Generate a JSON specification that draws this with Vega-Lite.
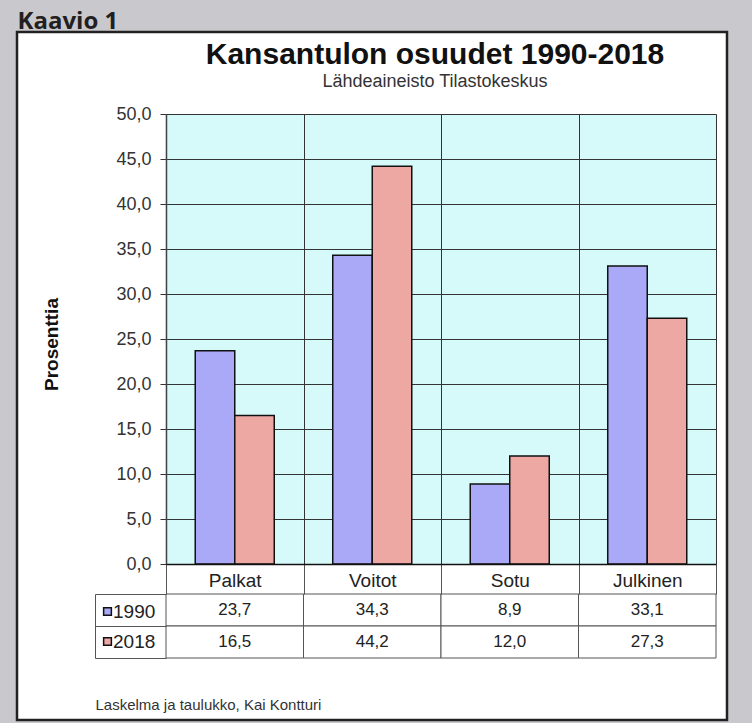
{
  "$schema": "https://vega.github.io/schema/vega-lite/v6.json",
  "width": 710,
  "height": 688,
  "autosize": {"type": "none"},
  "padding": {"left": 17, "top": 32, "right": 25, "bottom": 3},
  "background": "#c9c9cd",
  "title": {
    "text": "Kansantulon osuudet 1990-2018",
    "subtitle": "Lähdeaineisto Tilastokeskus",
    "anchor": "middle",
    "frame": "group",
    "dx": 63,
    "offset": -82,
    "font": "Liberation Sans",
    "fontSize": 30,
    "fontWeight": "bold",
    "color": "#111111",
    "subtitleFont": "Liberation Sans",
    "subtitleFontSize": 18,
    "subtitleColor": "#333333",
    "subtitlePadding": 3
  },
  "data": {
    "values": [
      {"category": "Palkat", "series": "1990", "value": 23.7},
      {"category": "Palkat", "series": "2018", "value": 16.5},
      {"category": "Voitot", "series": "1990", "value": 34.3},
      {"category": "Voitot", "series": "2018", "value": 44.2},
      {"category": "Sotu", "series": "1990", "value": 8.9},
      {"category": "Sotu", "series": "2018", "value": 12.0},
      {"category": "Julkinen", "series": "1990", "value": 33.1},
      {"category": "Julkinen", "series": "2018", "value": 27.3}
    ]
  },
  "layer": [
    {
      "layer": [
        {
          "transform": [{"filter": "datum.series == '1990'"}],
          "mark": {"type": "bar", "stroke": "#111111", "strokeWidth": 1.5},
          "encoding": {
            "x": {
              "field": "category", "type": "nominal",
              "scale": {"type": "band", "domain": ["Palkat", "Voitot", "Sotu", "Julkinen"], "range": [149, 699], "paddingInner": 0, "paddingOuter": 0},
              "axis": {"orient": "top", "grid": true, "gridColor": "#d6fafa", "gridWidth": 138, "gridOpacity": 1, "bandPosition": 0.5, "labels": false, "ticks": false, "domain": false, "title": null}
            },
            "xOffset": {"field": "series", "type": "nominal", "scale": {"domain": ["1990", "2018"], "paddingInner": 0, "paddingOuter": 0.74}},
            "y": {
              "field": "value", "type": "quantitative",
              "scale": {"domain": [0, 50], "range": [532, 82], "nice": false, "zero": true},
              "axis": {
                "orient": "left", "offset": -149,
                "values": [0, 5, 10, 15, 20, 25, 30, 35, 40, 45, 50],
                "format": ".1f",
                "labelFont": "Liberation Sans", "labelFontSize": 18, "labelColor": "#333333", "labelPadding": 9,
                "ticks": true, "tickSize": 6, "tickColor": "#333333", "tickWidth": 1,
                "domain": true, "domainColor": "#444444", "domainWidth": 1.5,
                "grid": true, "gridColor": "#333333", "gridWidth": 1, "gridOpacity": 1,
                "title": "Prosenttia",
                "titleFont": "Liberation Sans", "titleFontSize": 19, "titleFontWeight": "bold", "titleColor": "#111111",
                "titleAngle": 270, "titleX": -115, "titleY": 312, "titleAlign": "center", "titleBaseline": "middle"
              }
            },
            "color": {
              "field": "series", "type": "nominal",
              "scale": {"domain": ["1990", "2018"], "range": ["#a9a9f7", "#eda8a4"]},
              "legend": {
                "orient": "none", "legendX": 81, "legendY": 570, "direction": "vertical", "title": null, "padding": 0,
                "symbolType": "square", "symbolSize": 60, "symbolStrokeColor": "#111111", "symbolStrokeWidth": 1.5, "symbolOpacity": 1,
                "labelFont": "Liberation Sans", "labelFontSize": 19, "labelColor": "#222222", "labelOffset": -4, "labelBaseline": "middle",
                "rowPadding": 10
              }
            }
          }
        },
        {
          "transform": [{"filter": "datum.series == '2018'"}],
          "mark": {"type": "bar", "stroke": "#111111", "strokeWidth": 1.5},
          "encoding": {
            "x": {
              "field": "category", "type": "nominal",
              "scale": {"type": "band", "domain": ["Palkat", "Voitot", "Sotu", "Julkinen"], "range": [149, 699], "paddingInner": 0, "paddingOuter": 0},
              "axis": {"orient": "top", "grid": true, "tickBand": "extent", "gridColor": "#333333", "gridWidth": 1, "gridOpacity": 1, "labels": false, "ticks": false, "domain": false, "title": null}
            },
            "xOffset": {"field": "series", "type": "nominal", "scale": {"domain": ["1990", "2018"], "paddingInner": 0, "paddingOuter": 0.74}},
            "y": {"field": "value", "type": "quantitative", "axis": null},
            "color": {"field": "series", "type": "nominal"}
          }
        }
      ],
      "resolve": {"axis": {"x": "independent", "y": "independent"}}
    },
    {
      "layer": [
        {
          "mark": {"type": "rect", "fill": "white", "stroke": "#555555", "strokeWidth": 1},
          "encoding": {
            "x": {
              "field": "category", "type": "nominal",
              "scale": {"type": "band", "domain": ["Palkat", "Voitot", "Sotu", "Julkinen"], "range": [149, 699], "paddingInner": 0, "paddingOuter": 0},
              "axis": {
                "orient": "bottom", "offset": -156, "title": null,
                "domain": true, "domainColor": "#111111", "domainWidth": 1.5,
                "ticks": true, "tickBand": "extent", "tickSize": 30, "tickColor": "#555555", "tickWidth": 1,
                "labels": true, "labelAngle": 0, "labelFont": "Liberation Sans", "labelFontSize": 19, "labelColor": "#222222",
                "labelPadding": -14, "labelBaseline": "middle", "grid": false
              }
            },
            "y": {
              "field": "series", "type": "nominal",
              "scale": {"type": "band", "domain": ["1990", "2018"], "range": [562, 626], "paddingInner": 0, "paddingOuter": 0},
              "axis": {
                "orient": "left", "offset": -78, "title": null, "labels": false, "grid": false,
                "domain": true, "domainColor": "#555555", "domainWidth": 1,
                "ticks": true, "tickBand": "extent", "tickSize": -71, "tickColor": "#555555", "tickWidth": 1
              }
            }
          }
        },
        {
          "mark": {"type": "text", "font": "Liberation Sans", "fontSize": 17, "color": "#222222", "baseline": "middle", "align": "center"},
          "encoding": {
            "x": {
              "field": "category", "type": "nominal",
              "scale": {"type": "band", "domain": ["Palkat", "Voitot", "Sotu", "Julkinen"], "range": [149, 699], "paddingInner": 0, "paddingOuter": 0},
              "axis": {
                "orient": "bottom", "offset": 0, "labels": false, "ticks": false, "domain": false, "grid": false,
                "title": "Laskelma ja taulukko, Kai Kontturi",
                "titleFont": "Liberation Sans", "titleFontSize": 15, "titleFontWeight": "normal", "titleColor": "#333333",
                "titleX": 78, "titleY": -11, "titleAlign": "left", "titleBaseline": "alphabetic"
              }
            },
            "y": {
              "field": "series", "type": "nominal",
              "scale": {"type": "band", "domain": ["1990", "2018"], "range": [562, 626], "paddingInner": 0, "paddingOuter": 0},
              "axis": {
                "orient": "left", "offset": 0, "labels": false, "ticks": false, "domain": false, "grid": false,
                "title": "Kaavio 1",
                "titleFont": "Open Sans", "titleFontSize": 24, "titleFontWeight": "bold", "titleColor": "#231f20",
                "titleAngle": 0, "titleX": 0, "titleY": -4, "titleAlign": "left", "titleBaseline": "alphabetic"
              }
            },
            "text": {"field": "value", "type": "quantitative", "format": ".1f"}
          }
        }
      ],
      "resolve": {"axis": {"x": "independent", "y": "independent"}}
    }
  ],
  "resolve": {"scale": {"y": "independent"}, "axis": {"x": "independent", "y": "independent"}},
  "config": {
    "locale": {"number": {"decimal": ",", "thousands": " ", "grouping": [3], "currency": ["", " €"]}},
    "view": {"fill": "white", "stroke": "#222222", "strokeWidth": 2.5},
    "font": "Liberation Sans"
  }
}
